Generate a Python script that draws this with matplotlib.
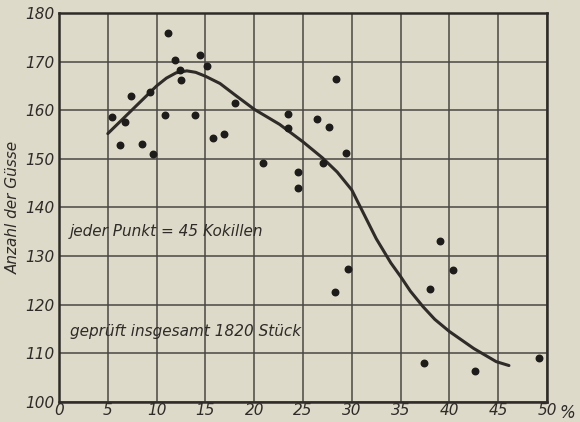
import matplotlib.pyplot as plt
import numpy as np

# scatter points: each point = 45 Kokillen
pts_x = [5.4, 6.2, 6.8, 7.4, 8.5, 9.6, 9.3, 10.9, 11.2, 11.9, 12.4, 12.5, 13.9, 14.4,
         15.2, 15.8, 16.9, 18.0, 20.9, 23.5, 23.5, 24.5, 24.5, 26.4, 27.0, 27.7, 28.4,
         29.4, 28.3, 29.6, 37.4, 38.0, 39.0, 40.4, 42.6, 49.2]
pts_y = [158.7, 152.9, 157.6, 162.9, 153.1, 151.0, 163.8, 159.0, 175.9, 170.3, 168.3, 166.2,
         159.0, 171.4, 169.1, 154.3, 155.2, 161.4, 149.2, 159.3, 156.4, 147.4, 144.0, 158.2,
         149.2, 156.6, 166.4, 151.3, 122.7, 127.3, 108.0, 123.2, 133.2, 127.1, 106.3, 109.0]

# hand-drawn trend curve
curve_x = [5.0, 7.5, 10.0, 11.0, 12.0, 13.1, 14.0, 15.0, 16.5, 18.0, 20.0, 22.6, 25.0, 27.0,
           28.5, 30.0, 31.5, 32.5, 34.0, 35.0, 36.0, 37.3, 38.5, 40.0, 42.5, 44.8, 46.1]
curve_y = [155.2, 160.1, 165.0, 166.6, 167.7, 168.1, 167.8, 167.0, 165.5, 163.2, 160.2, 157.1,
           153.5, 150.2, 147.3, 143.6, 137.6, 133.6, 128.6, 125.8, 122.8, 119.6, 117.0, 114.5,
           111.0, 108.3, 107.5]

xticks = [0, 5, 10, 15, 20, 25, 30, 35, 40, 45, 50]
yticks = [100, 110, 120, 130, 140, 150, 160, 170, 180]

bg = '#dedac9'
ink = '#2e2b28'
fam = ['Liberation Sans Narrow', 'DejaVu Sans']
fs = 11

fig = plt.figure(figsize=(5.8, 4.22), dpi=100, facecolor=bg)
ax = fig.add_axes([59 / 580, 20 / 422, 488 / 580, 389 / 422])
ax.set_facecolor(bg)

ax.set_xlim(0, 50)
ax.set_ylim(100, 180)
ax.set_xticks(xticks)
ax.set_yticks(yticks)
ax.set_xticklabels([str(t) for t in xticks], fontsize=fs, style='italic', family=fam, color=ink)
ax.set_yticklabels([str(t) for t in yticks], fontsize=fs, style='italic', family=fam, color=ink)
ax.tick_params(axis='x', length=0, pad=1)
ax.tick_params(axis='y', length=0, pad=3)
ax.grid(True, color='#4a4744', lw=1.1)
ax.set_axisbelow(True)
for s in ax.spines.values():
    s.set_color(ink)
    s.set_linewidth(1.8)

ax.plot(curve_x, curve_y, color=ink, lw=2.2, solid_capstyle='round')
ax.scatter(pts_x, pts_y, s=22, color='#1e1c1a', zorder=3)

ax.set_ylabel('Anzahl der Güsse', fontsize=fs, style='italic', family=fam, color=ink)
ax.yaxis.set_label_coords(-0.078, 0.5)
ax.text(1.1, 135, 'jeder Punkt = 45 Kokillen', fontsize=fs, style='italic', family=fam,
        color=ink, va='center')
ax.text(1.1, 114.4, 'geprüft insgesamt 1820 Stück', fontsize=fs, style='italic', family=fam,
        color=ink, va='center')
ax.text(1.025, -0.027, '%', transform=ax.transAxes, fontsize=fs + 1, style='italic', family=fam,
        color=ink, va='center', ha='left')

fig.savefig('out.png', dpi=100, facecolor=bg)
